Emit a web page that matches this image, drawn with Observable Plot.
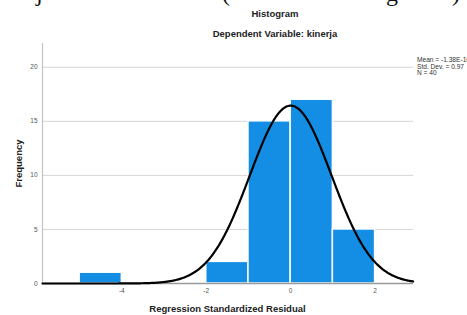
<!DOCTYPE html>
<html>
<head>
<meta charset="utf-8">
<script src="https://cdn.jsdelivr.net/npm/d3@7"></script>
<script src="https://cdn.jsdelivr.net/npm/@observablehq/plot@0.6"></script>
<style>
  html, body { margin: 0; padding: 0; background: #fff; }
  #wrap { position: relative; width: 467px; height: 315px; overflow: hidden; font-family: "Liberation Sans", Arial, sans-serif; }
  .t { position: absolute; white-space: nowrap; color: #222; }
  .serif { position: absolute; font-family: "Liberation Serif", "DejaVu Serif", serif; font-size: 24px; color: #111; line-height: 1; }
</style>
</head>
<body>
<div id="wrap"></div>
<script>
// ---- data ----
const binStart = [-5, -2, -1, 0, 1];
const binEnd   = [-4, -1, 0, 1, 2];
const frequency = [1, 2, 15, 17, 5];
const xTicks = [-4, -2, 0, 2];
const yTicks = [0, 5, 10, 15, 20];
const statLabels = ["Mean = -1.38E-16", "Std. Dev. = 0.97", "N = 40"];
const statMean = -1.38e-16;
const statSD = 0.97;
const statN = 40;
const xDomain = [-5.88, 2.91];
const yDomain = [0, 22.2];

const bars = binStart.map((s, i) => ({x1: s, x2: binEnd[i], y: frequency[i]}));

// normal curve implied by the stated Mean / SD / N (bin width 1)
const binWidth = 1;
const curve = d3.range(xDomain[0], xDomain[1] + 0.001, 0.02).map(x => ({
  x,
  y: statN * binWidth * Math.exp(-0.5 * ((x - statMean) / statSD) ** 2) / (statSD * Math.sqrt(2 * Math.PI))
}));

const chart = Plot.plot({
  width: 467,
  height: 315,
  marginLeft: 42,
  marginRight: 54,
  marginTop: 43,
  marginBottom: 32,
  style: { fontFamily: "Liberation Sans, Arial, sans-serif", fontSize: "6.5px", background: "transparent", overflow: "visible" },
  x: { domain: xDomain },
  y: { domain: yDomain },
  marks: [
    Plot.gridY(yTicks.filter(d => d > 0), { stroke: "#d6d6d6", strokeOpacity: 1, strokeWidth: 1 }),
    Plot.rectY(bars, { x1: "x1", x2: "x2", y: "y", fill: "#138ee4", stroke: "#ffffff", strokeWidth: 1.5 }),
    Plot.ruleY([0], { stroke: "#9a9a9a", strokeWidth: 1.5 }),
    Plot.ruleX([xDomain[0]], { stroke: "#c4c4c4", strokeWidth: 1.2 }),
    Plot.line(curve, { x: "x", y: "y", stroke: "#000", strokeWidth: 2.2, curve: "linear" }),
    Plot.axisX({ ticks: xTicks, tickSize: 0, tickPadding: 5, label: null, fill: "#555", tickFormat: d => String(d) }),
    Plot.axisY({ ticks: yTicks, tickSize: 0, tickPadding: 5, label: null, fill: "#555" })
  ]
});

const wrap = document.getElementById("wrap");
chart.style.position = "absolute";
chart.style.left = "0px";
chart.style.top = "0px";
wrap.appendChild(chart);

function addText(txt, css) {
  const d = document.createElement("div");
  d.className = "t";
  d.textContent = txt;
  Object.assign(d.style, css);
  wrap.appendChild(d);
  return d;
}

// titles
addText("Histogram", { left: "0px", width: "550px", textAlign: "center", top: "8px", fontSize: "9.5px", fontWeight: "bold" });
addText("Dependent Variable: kinerja", { left: "0px", width: "550px", textAlign: "center", top: "28px", fontSize: "9.5px", fontWeight: "bold" });
// axis titles
addText("Regression Standardized Residual", { left: "42px", width: "371px", textAlign: "center", top: "303px", fontSize: "9.5px", fontWeight: "bold" });
addText("Frequency", { left: "-12px", width: "60px", textAlign: "center", top: "158px", fontSize: "9.5px", fontWeight: "bold", transform: "rotate(-90deg)" });
// stats legend
statLabels.forEach((s, i) => addText(s, { left: "417px", top: (56 + i * 6.6) + "px", fontSize: "6.6px", lineHeight: "7px", color: "#333" }));

// descenders of the cropped document line above the chart
[["j", 36], ["(", 222], ["g", 386], [")", 452]].forEach(([c, x]) => {
  const s = document.createElement("div");
  s.className = "serif";
  s.textContent = c;
  s.style.left = x + "px";
  s.style.top = "-19px";
  wrap.appendChild(s);
});
</script>
</body>
</html>
